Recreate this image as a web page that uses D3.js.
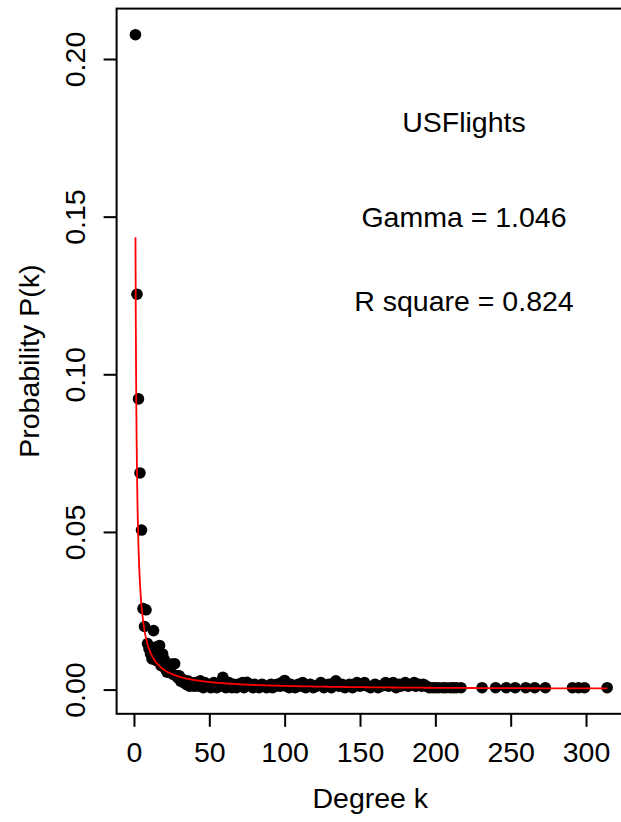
<!DOCTYPE html>
<html>
<head>
<meta charset="utf-8">
<script src="https://cdn.jsdelivr.net/npm/d3@7"></script>
<style>
  html, body { margin: 0; padding: 0; background: #fff; }
  svg { display: block; font-family: "Liberation Sans", Arial, Helvetica, sans-serif; }
</style>
</head>
<body>
<svg id="chart" width="621" height="822"></svg>
<script>
// Degree distribution of the USFlights network
const degrees = [
  1, 2, 3, 4, 5, 6, 7, 8, 9, 10, 11, 12, 13, 14, 15, 16, 17, 18, 19, 20,
  21, 22, 23, 24, 25, 26, 27, 28, 29, 30, 31, 32, 33, 34, 35, 36, 37, 38, 39, 40,
  41, 42, 43, 44, 45, 46, 47, 48, 49, 50, 51, 52, 53, 54, 55, 56, 57, 58, 59, 60,
  61, 62, 63, 64, 65, 66, 67, 68, 69, 70, 72, 73, 74, 75, 76, 78, 79, 80, 82, 83,
  85, 86, 88, 89, 91, 92, 94, 95, 97, 98, 100, 101, 103, 104, 106, 107, 109, 111, 112, 114,
  116, 117, 119, 121, 123, 124, 126, 128, 129, 131, 133, 134, 136, 138, 140, 142, 143, 145, 147, 148,
  150, 152, 153, 155, 157, 159, 160, 162, 164, 166, 167, 169, 171, 172, 174, 176, 177, 179, 180, 182,
  184, 186, 187, 189, 191, 192, 194, 196, 198, 200, 202, 205, 207, 210, 212, 214, 217, 231, 240, 247,
  253, 260, 266, 273, 291, 295, 299, 314
];
const probability = [
  0.2077, 0.1254, 0.0922, 0.0687, 0.0506, 0.0257, 0.0200, 0.0253, 0.0146, 0.0129,
  0.0113, 0.0097, 0.0187, 0.0134, 0.0092, 0.0108, 0.0140, 0.0076, 0.0113, 0.0097,
  0.0065, 0.0055, 0.0060, 0.0070, 0.0081, 0.0048, 0.0082, 0.0044, 0.0038, 0.0044,
  0.0027, 0.0033, 0.0022, 0.0029, 0.0016, 0.0027, 0.0011, 0.0022, 0.0016, 0.0011,
  0.0022, 0.0017, 0.0011, 0.0028, 0.0017, 0.0006, 0.0022, 0.0011, 0.0017, 0.0011,
  0.0006, 0.0017, 0.0022, 0.0011, 0.0006, 0.0017, 0.0011, 0.0022, 0.0039, 0.0017,
  0.0006, 0.0011, 0.0022, 0.0011, 0.0006, 0.0017, 0.0011, 0.0006, 0.0017, 0.0011,
  0.0022, 0.0006, 0.0011, 0.0023, 0.0017, 0.0011, 0.0006, 0.0017, 0.0011, 0.0006,
  0.0017, 0.0011, 0.0006, 0.0011, 0.0017, 0.0006, 0.0011, 0.0017, 0.0011, 0.0022,
  0.0029, 0.0011, 0.0006, 0.0017, 0.0011, 0.0006, 0.0017, 0.0011, 0.0022, 0.0006,
  0.0011, 0.0017, 0.0006, 0.0011, 0.0017, 0.0022, 0.0006, 0.0011, 0.0017, 0.0006,
  0.0022, 0.0028, 0.0011, 0.0017, 0.0006, 0.0011, 0.0017, 0.0006, 0.0017, 0.0022,
  0.0011, 0.0017, 0.0022, 0.0011, 0.0006, 0.0011, 0.0017, 0.0006, 0.0011, 0.0017,
  0.0022, 0.0011, 0.0017, 0.0022, 0.0006, 0.0017, 0.0011, 0.0017, 0.0022, 0.0011,
  0.0017, 0.0022, 0.0011, 0.0017, 0.0011, 0.0017, 0.0011, 0.0006, 0.0006, 0.0006,
  0.0006, 0.0006, 0.0006, 0.0006, 0.0006, 0.0006, 0.0006, 0.0006, 0.0006, 0.0006,
  0.0006, 0.0006, 0.0006, 0.0006, 0.0006, 0.0006, 0.0006, 0.0006
];

// Power-law fit P(k) = C * k^(-gamma)
const gamma = 1.046;
const fitConstant = 0.1435;
const rSquare = 0.824;
const networkName = "USFlights";

const xTicks = [0, 50, 100, 150, 200, 250, 300];
const yTicks = [0.00, 0.05, 0.10, 0.15, 0.20];

const points = degrees.map((k, i) => ({ k, p: probability[i] }));

const svg = d3.select("#chart");
const FONT = 28.5;

// Axis ranges padded by 4% of the data span on each side
const kExt = d3.extent(degrees);
const pExt = d3.extent(probability);
const kPad = (kExt[1] - kExt[0]) * 0.04;
const pPad = (pExt[1] - pExt[0]) * 0.04;

const x = d3.scaleLinear()
  .domain([kExt[0] - kPad, kExt[1] + kPad])
  .range([116.6, 626]);
const y = d3.scaleLinear()
  .domain([pExt[0] - pPad, pExt[1] + pPad])
  .range([713.8, 8.6]);

const [x0, x1] = x.range();
const [y0, y1] = y.range();

// Points
svg.append("g")
  .selectAll("circle")
  .data(points)
  .join("circle")
  .attr("cx", d => x(d.k))
  .attr("cy", d => y(d.p))
  .attr("r", 5.8)
  .attr("fill", "#000");

// Fitted curve
const fitK = d3.range(1, kExt[1] + 0.01, 0.25);
const line = d3.line()
  .x(k => x(k))
  .y(k => y(fitConstant * Math.pow(k, -gamma)));
svg.append("path")
  .attr("d", line(fitK))
  .attr("fill", "none")
  .attr("stroke", "#ff0000")
  .attr("stroke-width", 1.8);

// Plot frame
svg.append("rect")
  .attr("x", x0).attr("y", y1)
  .attr("width", x1 - x0).attr("height", y0 - y1)
  .attr("fill", "none")
  .attr("stroke", "#000")
  .attr("stroke-width", 2);

// X axis
const xAxis = d3.axisBottom(x)
  .tickValues(xTicks)
  .tickSize(13)
  .tickFormat(d3.format("d"));
const gx = svg.append("g")
  .attr("transform", `translate(0,${y0})`)
  .call(xAxis);
gx.select(".domain").remove();
gx.selectAll(".tick line").attr("stroke", "#000").attr("stroke-width", 2);
gx.selectAll(".tick text")
  .attr("fill", "#000")
  .attr("font-size", FONT)
  .attr("font-family", "Liberation Sans, Arial, sans-serif")
  .attr("dy", null)
  .attr("y", 762 - y0);

// Y axis
const yAxis = d3.axisLeft(y)
  .tickValues(yTicks)
  .tickSize(13)
  .tickFormat(d3.format(".2f"));
const gy = svg.append("g")
  .attr("transform", `translate(${x0},0)`)
  .call(yAxis);
gy.select(".domain").remove();
gy.selectAll(".tick line").attr("stroke", "#000").attr("stroke-width", 2);
gy.selectAll(".tick text")
  .attr("fill", "#000")
  .attr("font-size", FONT)
  .attr("font-family", "Liberation Sans, Arial, sans-serif")
  .attr("x", null).attr("dy", null)
  .attr("text-anchor", "middle")
  .attr("transform", `translate(${85 - x0},0) rotate(-90)`);

// Axis titles
svg.append("text")
  .attr("x", (x0 + x1) / 2 - 1)
  .attr("y", 808)
  .attr("text-anchor", "middle")
  .attr("font-size", FONT)
  .text("Degree k");

svg.append("text")
  .attr("transform", `translate(39,${(y0 + y1) / 2}) rotate(-90)`)
  .attr("text-anchor", "middle")
  .attr("font-size", FONT)
  .text("Probability P(k)");

// Annotations
const annX = 219;
const capShift = FONT * 0.358;
const notes = [
  { text: networkName, p: 0.180 },
  { text: `Gamma = ${gamma.toFixed(3)}`, p: 0.150 },
  { text: `R square = ${rSquare.toFixed(3)}`, p: 0.1233 }
];
svg.append("g")
  .selectAll("text")
  .data(notes)
  .join("text")
  .attr("x", x(annX))
  .attr("y", d => y(d.p) + capShift)
  .attr("text-anchor", "middle")
  .attr("font-size", FONT)
  .attr("fill", "#000")
  .text(d => d.text);
</script>
</body>
</html>
